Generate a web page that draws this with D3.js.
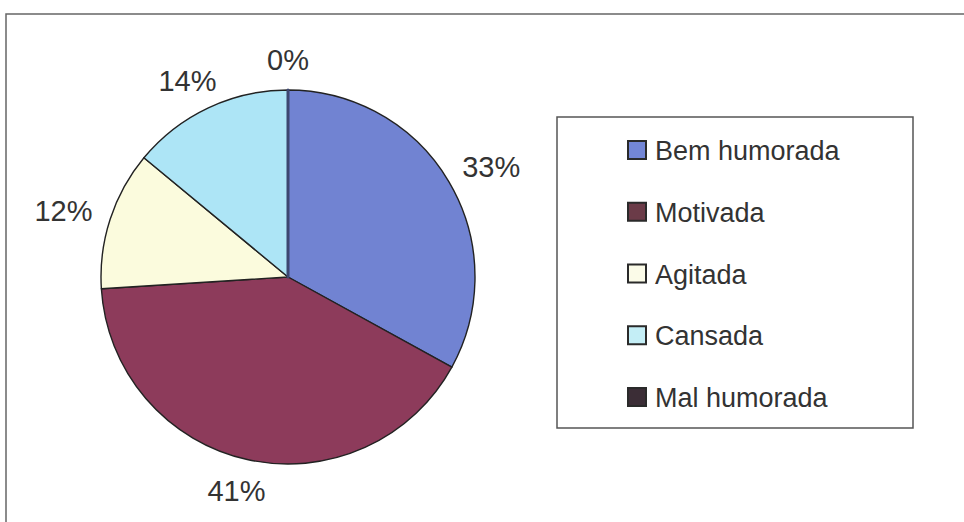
<!DOCTYPE html>
<html lang="pt">
<head>
<meta charset="UTF-8">
<title>Pie</title>
<script src="https://d3js.org/d3.v7.min.js"></script>
<style>
  body { margin: 0; background: #fff; }
  svg { display: block; }
  text { font-family: "Liberation Sans", Arial, sans-serif; fill: #333; }
</style>
</head>
<body>
<svg id="chart" width="964" height="522"></svg>
<script>
// data
var categories = ["Bem humorada", "Motivada", "Agitada", "Cansada", "Mal humorada"];
var values = [33, 41, 12, 14, 0];
var labels = ["33%", "41%", "12%", "14%", "0%"];
var colors = ["#7183d2", "#8d3b5b", "#fbfbdd", "#ade5f6", "#3a2e38"];
var legendColors = ["#7386d6", "#6b3b48", "#fbfbe8", "#c4eef6", "#3b2d36"];

var svg = d3.select("#chart");

// outer frame (cut by the window on the right and bottom)
svg.append("rect")
    .attr("x", 6).attr("y", 14)
    .attr("width", 1000).attr("height", 600)
    .attr("fill", "none")
    .attr("stroke", "#666")
    .attr("stroke-width", 1.5);

var cx = 288, cy = 277, r = 187;

var pie = d3.pie().sort(null).value(function(d){ return d; });
var arc = d3.arc().innerRadius(0).outerRadius(r);
var arcs = pie(values);

var g = svg.append("g").attr("transform", "translate(" + cx + "," + cy + ")");

g.selectAll("path.slice")
    .data(arcs)
    .enter().append("path")
    .attr("class", "slice")
    .attr("d", arc)
    .attr("fill", function(d, i){ return colors[i]; })
    .attr("stroke", function(d, i){ return d.data === 0 ? "#3c4670" : "#222"; })
    .attr("stroke-width", function(d, i){ return d.data === 0 ? 3 : 1.4; })
    .attr("stroke-linejoin", "round");

// percentage labels, placed just outside the rim
var fs = 29, gap = 20;
g.selectAll("text.lbl")
    .data(arcs)
    .enter().append("text")
    .attr("class", "lbl")
    .attr("font-size", fs)
    .attr("text-anchor", "middle")
    .each(function(d, i){
        var a = (d.startAngle + d.endAngle) / 2;
        var s = Math.sin(a), c = Math.cos(a);
        var px = (r + gap) * s, py = -(r + gap) * c;
        var w = labels[i].length * fs * 0.67, h = fs * 0.75;
        d3.select(this)
            .attr("x", px + s * w / 2)
            .attr("y", py - c * h / 2 + h / 2)
            .text(labels[i]);
    });

// legend
var lx = 557, ly = 117, lw = 356, lh = 311;
svg.append("rect")
    .attr("x", lx).attr("y", ly)
    .attr("width", lw).attr("height", lh)
    .attr("fill", "#fff")
    .attr("stroke", "#555")
    .attr("stroke-width", 1.5);

var ly0 = d3.scalePoint().domain(categories).range([150, 397]);

var items = svg.selectAll("g.item")
    .data(categories)
    .enter().append("g")
    .attr("class", "item")
    .attr("transform", function(d){ return "translate(628," + ly0(d) + ")"; });

items.append("rect")
    .attr("x", 0).attr("y", -9)
    .attr("width", 18).attr("height", 18)
    .attr("fill", function(d, i){ return legendColors[i]; })
    .attr("stroke", "#2a2a2a")
    .attr("stroke-width", 2);

items.append("text")
    .attr("x", 27).attr("y", 10)
    .attr("font-size", 27)
    .text(function(d){ return d; });
</script>
</body>
</html>
